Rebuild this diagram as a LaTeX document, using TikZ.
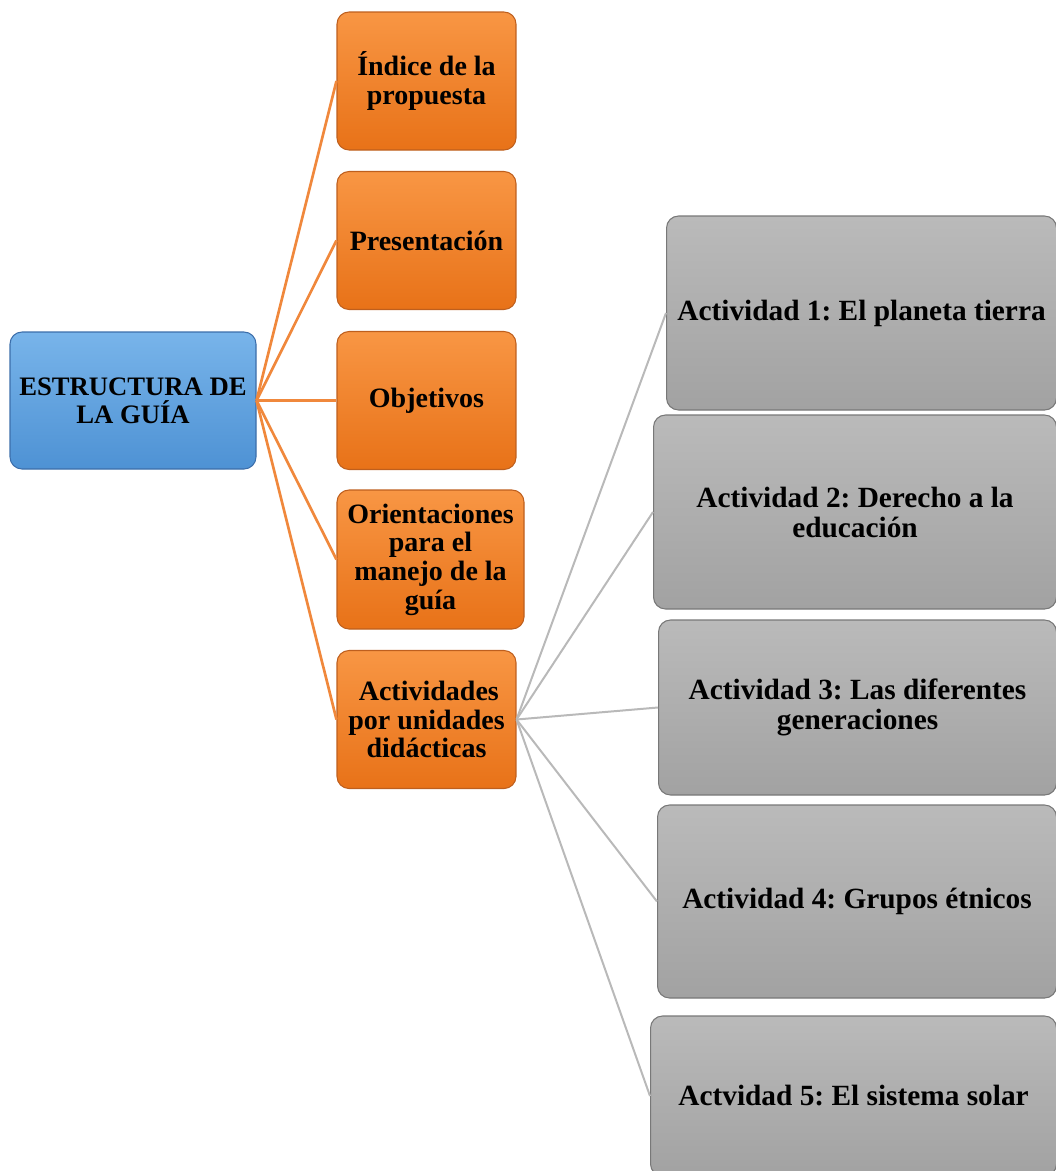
\documentclass[tikz,border=0pt]{standalone}
\usepackage{fontspec}
\setmainfont{Liberation Serif}
\usetikzlibrary{positioning}
\frenchspacing

\definecolor{blueTop}{RGB}{120,180,234}
\definecolor{blueBot}{RGB}{78,146,212}
\definecolor{blueLine}{RGB}{60,110,170}
\definecolor{orangeTop}{RGB}{248,150,68}
\definecolor{orangeBot}{RGB}{232,114,24}
\definecolor{orangeLine}{RGB}{190,95,30}
\definecolor{orangeLink}{RGB}{240,136,60}
\definecolor{grayTop}{RGB}{186,186,186}
\definecolor{grayBot}{RGB}{162,162,162}
\definecolor{grayLine}{RGB}{120,120,120}
\definecolor{grayLink}{RGB}{185,185,185}

\tikzset{
  box/.style={rectangle, rounded corners=9pt, align=center, inner sep=2pt, line width=0.8pt},
  root/.style={box, draw=blueLine, top color=blueTop, bottom color=blueBot,
    minimum width=184.5pt, minimum height=102.75pt, font=\fontsize{20}{21}\selectfont\bfseries},
  topic/.style={box, draw=orangeLine, top color=orangeTop, bottom color=orangeBot,
    minimum width=134.25pt, minimum height=103.5pt, font=\fontsize{21}{21.5}\selectfont\bfseries},
  activity/.style={box, draw=grayLine, top color=grayTop, bottom color=grayBot,
    anchor=west, font=\fontsize{22}{22.5}\selectfont\bfseries},
  orangelink/.style={draw=orangeLink, line width=2pt},
  graylink/.style={draw=grayLink, line width=1.5pt}
}

\begin{document}
\begin{tikzpicture}[x=0.75pt,y=-0.75pt]
\clip (0,0) rectangle (1056,1171);
\useasboundingbox (0,0) rectangle (1056,1171);

%root
\node[root] (guia) at (133,400.5) {ESTRUCTURA DE\\LA GUÍA};

%topics
\node[topic] (indice) at (426.5,81) {Índice de la\\propuesta};
\node[topic] (presentacion) at (426.5,240.5) {Presentación};
\node[topic] (objetivos) at (426.5,400.5) {Objetivos};
\node[topic, minimum width=140.25pt, minimum height=104.25pt] (orientaciones) at (430.5,559.5) {Orientaciones\\para el\\manejo de la\\guía};
\node[topic] (actividades) at (426.5,719.5) {\,Actividades\\por unidades\\didácticas};

%activities
\node[activity, minimum width=292.5pt, minimum height=145.5pt] (act1) at (666,313) {Actividad 1: El planeta tierra};
\node[activity, minimum width=302.25pt, minimum height=145.5pt] (act2) at (653,512) {Actividad 2: Derecho a la\\educación};
\node[activity, minimum width=298.5pt, minimum height=131.25pt] (act3) at (658,707.5) {Actividad 3: Las diferentes\\generaciones};
\node[activity, minimum width=299.25pt, minimum height=144.75pt] (act4) at (657,901.5) {Actividad 4: Grupos étnicos};
\node[activity, minimum width=304.5pt, minimum height=120pt] (act5) at (650,1096) {Actvidad 5: El sistema solar};

%links
\foreach \t in {indice,presentacion,objetivos,orientaciones,actividades}
  \draw[orangelink] (guia.east) -- (\t.west);
\foreach \a in {act1,act2,act3,act4,act5}
  \draw[graylink] (actividades.east) -- (\a.west);

\end{tikzpicture}
\end{document}
